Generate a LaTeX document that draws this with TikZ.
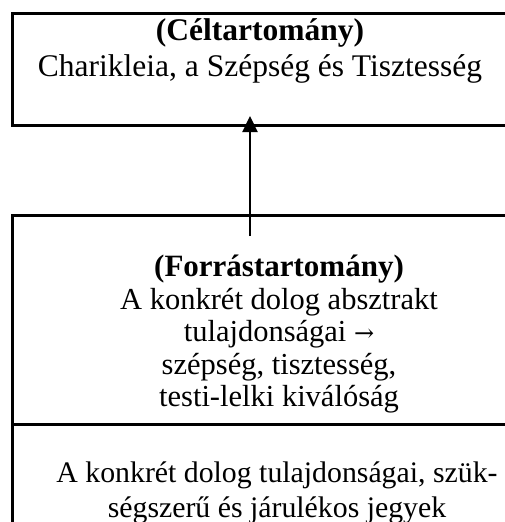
\documentclass[tikz,border=0pt]{standalone}
\usepackage{fontspec}
\setmainfont{Liberation Serif}
\newfontfamily\arrowfont{DejaVu Serif}
\usetikzlibrary{arrows.meta}
\tikzset{
  frame/.style={draw=black, line width=3pt, fill=none},
  upper/.style={font=\fontsize{31.5}{36}\selectfont, anchor=base, inner sep=0pt},
  lower/.style={font=\fontsize{30.5}{35}\selectfont, anchor=base, inner sep=0pt},
  link/.style={line width=2.4pt, -{Triangle[width=15pt,length=16pt]}}
}
\begin{document}
\begin{tikzpicture}[x=1pt,y=-1pt]
\useasboundingbox (0,0) rectangle (505,522);
\clip (0,0) rectangle (505,522);
% target domain box (its right side runs past the page edge)
\node[frame, anchor=north west, minimum width=520pt, minimum height=112pt, inner sep=0pt] (target) at (11,12) {};
% source domain box with its lower section
\node[frame, anchor=north west, minimum width=540pt, minimum height=330pt, inner sep=0pt] (source) at (11,214) {};
\coordinate (divL) at (11,424);
\coordinate (divR) at (560,424);
\draw[frame] (divL) -- (divR);

% texts of the target box
\node[upper, font=\fontsize{31.5}{36}\selectfont\bfseries] (t1) at (260,40) {(Céltartomány)};
\node[upper] (t2) at (260,76) {Charikleia, a Szépség és Tisztesség};

% texts of the source box
\node[lower, font=\fontsize{31}{35}\selectfont\bfseries] (s1) at (279,276) {(Forrástartomány)};
\node[lower] (s2) at (279,309) {A konkrét dolog absztrakt};
\node[lower] (s3) at (279,341) {tulajdonságai {\arrowfont\fontsize{24}{28}\selectfont →}};
\node[lower] (s4) at (279,374) {szépség, tisztesség,};
\node[lower] (s5) at (279,406) {testi-lelki kiválóság};

% texts of the lower section
\node[lower, font=\fontsize{29.8}{35}\selectfont] (b1) at (277,482) {A konkrét dolog tulajdonságai, szük-};
\node[lower, font=\fontsize{29.8}{35}\selectfont] (b2) at (277,517) {ségszerű és járulékos jegyek};

% mapping arrow from source to target
\coordinate (from) at (250,236);
\coordinate (to) at (250,116);
\draw[link] (from) -- (to);
\end{tikzpicture}
\end{document}
